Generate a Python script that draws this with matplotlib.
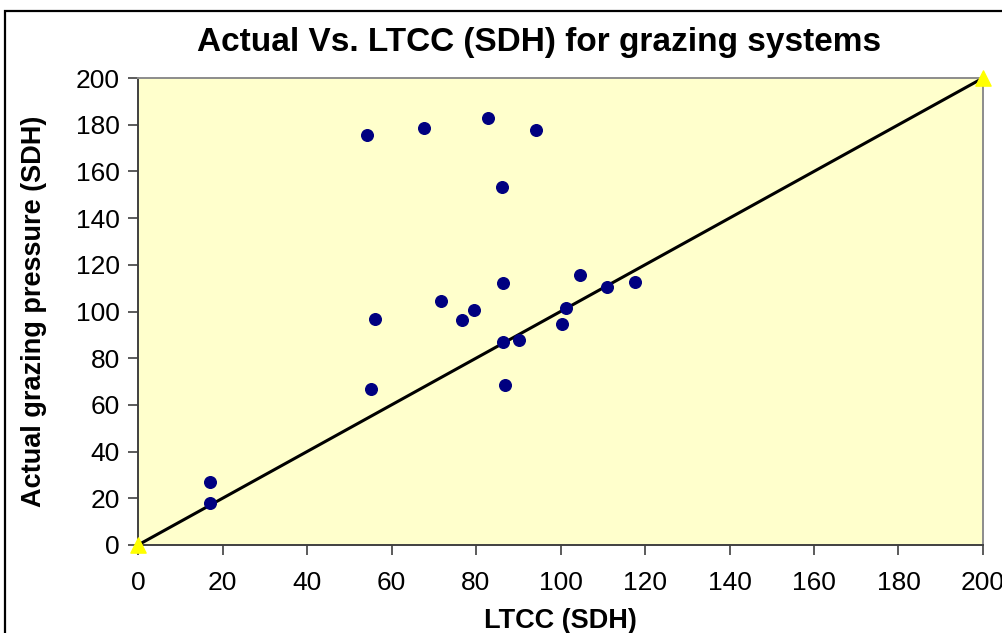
import matplotlib
matplotlib.use("Agg")
import matplotlib.pyplot as plt
from matplotlib.patches import Rectangle

plt.rcParams['font.family'] = ['Liberation Sans', 'DejaVu Sans']

# Data (LTCC vs actual grazing pressure, SDH)
ltcc = [17.0, 17.0, 54.2, 55.1, 56.1, 67.7, 71.7, 76.7, 79.5, 82.8, 86.2,
        86.4, 86.4, 86.9, 90.2, 94.2, 100.4, 101.3, 104.6, 111.0, 117.6]
actual = [27.0, 18.0, 175.6, 66.8, 96.8, 178.6, 104.5, 96.4, 100.6, 182.9, 153.3,
          112.2, 86.9, 68.5, 87.8, 177.7, 94.6, 101.5, 115.6, 110.5, 112.6]
line_x = [0, 200]
line_y = [0, 200]
ticks = [0, 20, 40, 60, 80, 100, 120, 140, 160, 180, 200]

fig = plt.figure(figsize=(10.03, 6.33), dpi=100)
fig.patch.set_facecolor('white')
# chart-area border
fig.patches.append(Rectangle((5/1003, -0.1), 1.2, (633-11)/633 + 0.1, transform=fig.transFigure,
                             fill=False, edgecolor='black', linewidth=1.6, zorder=0))

ax = fig.add_axes([138/1003, 88/633, (983-138)/1003, (545-78)/633])
ax.set_facecolor('#FFFFCC')

ax.plot(line_x, line_y, color='black', linewidth=2.2, zorder=2, clip_on=False)
ax.scatter(line_x, line_y, marker='^', s=120, color='#FFFF00', zorder=3, clip_on=False)
ax.scatter(ltcc, actual, s=70, color='#000080', zorder=4, clip_on=False)

ax.set_xlim(0, 200)
ax.set_ylim(0, 200)
ax.set_xticks(ticks)
ax.set_yticks(ticks)
ax.tick_params(axis='both', direction='out', length=7, width=1.2, color='#404040',
               labelsize=19, labelcolor='black')
ax.tick_params(axis='x', pad=12)
ax.tick_params(axis='y', pad=6)

for s in ['left', 'bottom']:
    ax.spines[s].set_color('#404040')
    ax.spines[s].set_linewidth(1.4)
for s in ['top', 'right']:
    ax.spines[s].set_color('#8C8C8C')
    ax.spines[s].set_linewidth(1.4)

fig.text(539/1003, 1 - 42/633, 'Actual Vs. LTCC (SDH) for grazing systems', fontsize=24,
         fontweight='bold', ha='center', va='center')
ax.set_xlabel('LTCC (SDH)', fontsize=19.5, fontweight='bold', labelpad=9)
ax.set_ylabel('Actual grazing pressure (SDH)', fontsize=19.5, fontweight='bold', labelpad=21)

fig.savefig('out.png', dpi=100)
